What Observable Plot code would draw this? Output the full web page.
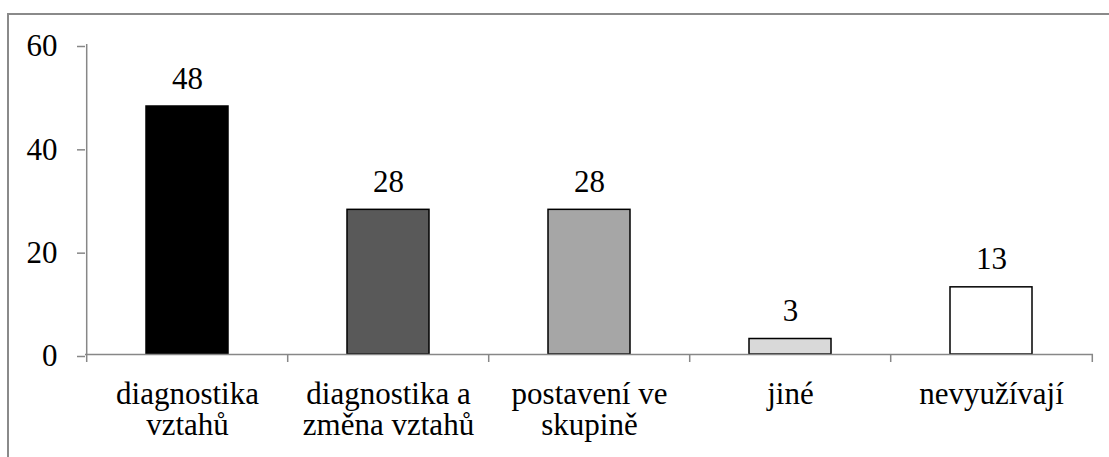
<!DOCTYPE html>
<html>
<head>
<meta charset="utf-8">
<script src="https://cdn.jsdelivr.net/npm/d3@7"></script>
<script src="https://cdn.jsdelivr.net/npm/@observablehq/plot@0.6"></script>
<style>
  html, body { margin: 0; padding: 0; background: #fff; }
  #wrap { position: relative; width: 1109px; height: 457px; overflow: hidden; }
  #border { position: absolute; left: 7px; top: 13px; width: 1200px; height: 600px;
            border-left: 2px solid #8a8a8a; border-top: 2px solid #8a8a8a; }
  svg { position: absolute; left: 0; top: 0; }
</style>
</head>
<body>
<div id="wrap"><div id="border"></div></div>
<script>
const categories = ["diagnostika vztahů", "diagnostika a změna vztahů", "postavení ve skupině", "jiné", "nevyužívají"];
const tickLabels = ["diagnostika\nvztahů", "diagnostika a\nzměna vztahů", "postavení ve\nskupině", "jiné", "nevyužívají"];
const values = [48, 28, 28, 3, 13];
const colors = ["#000000", "#595959", "#a6a6a6", "#d9d9d9", "#ffffff"];
const yTicks = [0, 20, 40, 60];

const data = categories.map((c, i) => ({cat: c, value: values[i], color: colors[i]}));

const W = 1109, H = 457, mL = 85, mR = 16, mT = 44, mB = 103;
const step = (W - mL - mR) / categories.length;
const axisColor = "#878787";
const FONT = "Liberation Serif";

const chart = Plot.plot({
  width: W,
  height: H,
  marginLeft: mL,
  marginRight: mR,
  marginTop: mT,
  marginBottom: mB,
  style: "font-family: 'Liberation Serif', serif; font-size: 31px; color: #000; background: transparent;",
  x: {domain: categories, paddingInner: 0.593, paddingOuter: 0.2965, label: null},
  y: {domain: [0, 60], label: null},
  marks: [
    Plot.barY(data, {x: "cat", y: "value", fill: "color", stroke: "#000", strokeWidth: 1.5}),
    Plot.ruleY([0], {stroke: axisColor, strokeWidth: 1.5}),
    Plot.ruleX([categories[0]], {x: d => d, y1: 0, y2: 60, dx: -step / 2, stroke: axisColor, strokeWidth: 1.5}),
    Plot.ruleX(categories, {x: d => d, y1: 0, y2: 0, dx: -step / 2, insetBottom: -8, stroke: axisColor, strokeWidth: 1.5}),
    Plot.ruleX([categories[categories.length - 1]], {x: d => d, y1: 0, y2: 0, dx: step / 2, insetBottom: -8, stroke: axisColor, strokeWidth: 1.5}),
    Plot.axisY({ticks: yTicks, tickSize: 8, tickPadding: 20, fontSize: 31, fontFamily: FONT, stroke: axisColor, strokeWidth: 1.5, dy: 2, label: null}),
    Plot.axisX({tickSize: 0, tickPadding: 27, fontSize: 31, fontFamily: FONT, tickFormat: d => tickLabels[categories.indexOf(d)], lineHeight: 1, label: null}),
    Plot.text(data, {x: "cat", y: "value", text: d => String(d.value), lineAnchor: "bottom", dy: -18, fontSize: 31, fontFamily: FONT, fill: "#000"})
  ]
});
document.getElementById("wrap").appendChild(chart);
</script>
</body>
</html>
